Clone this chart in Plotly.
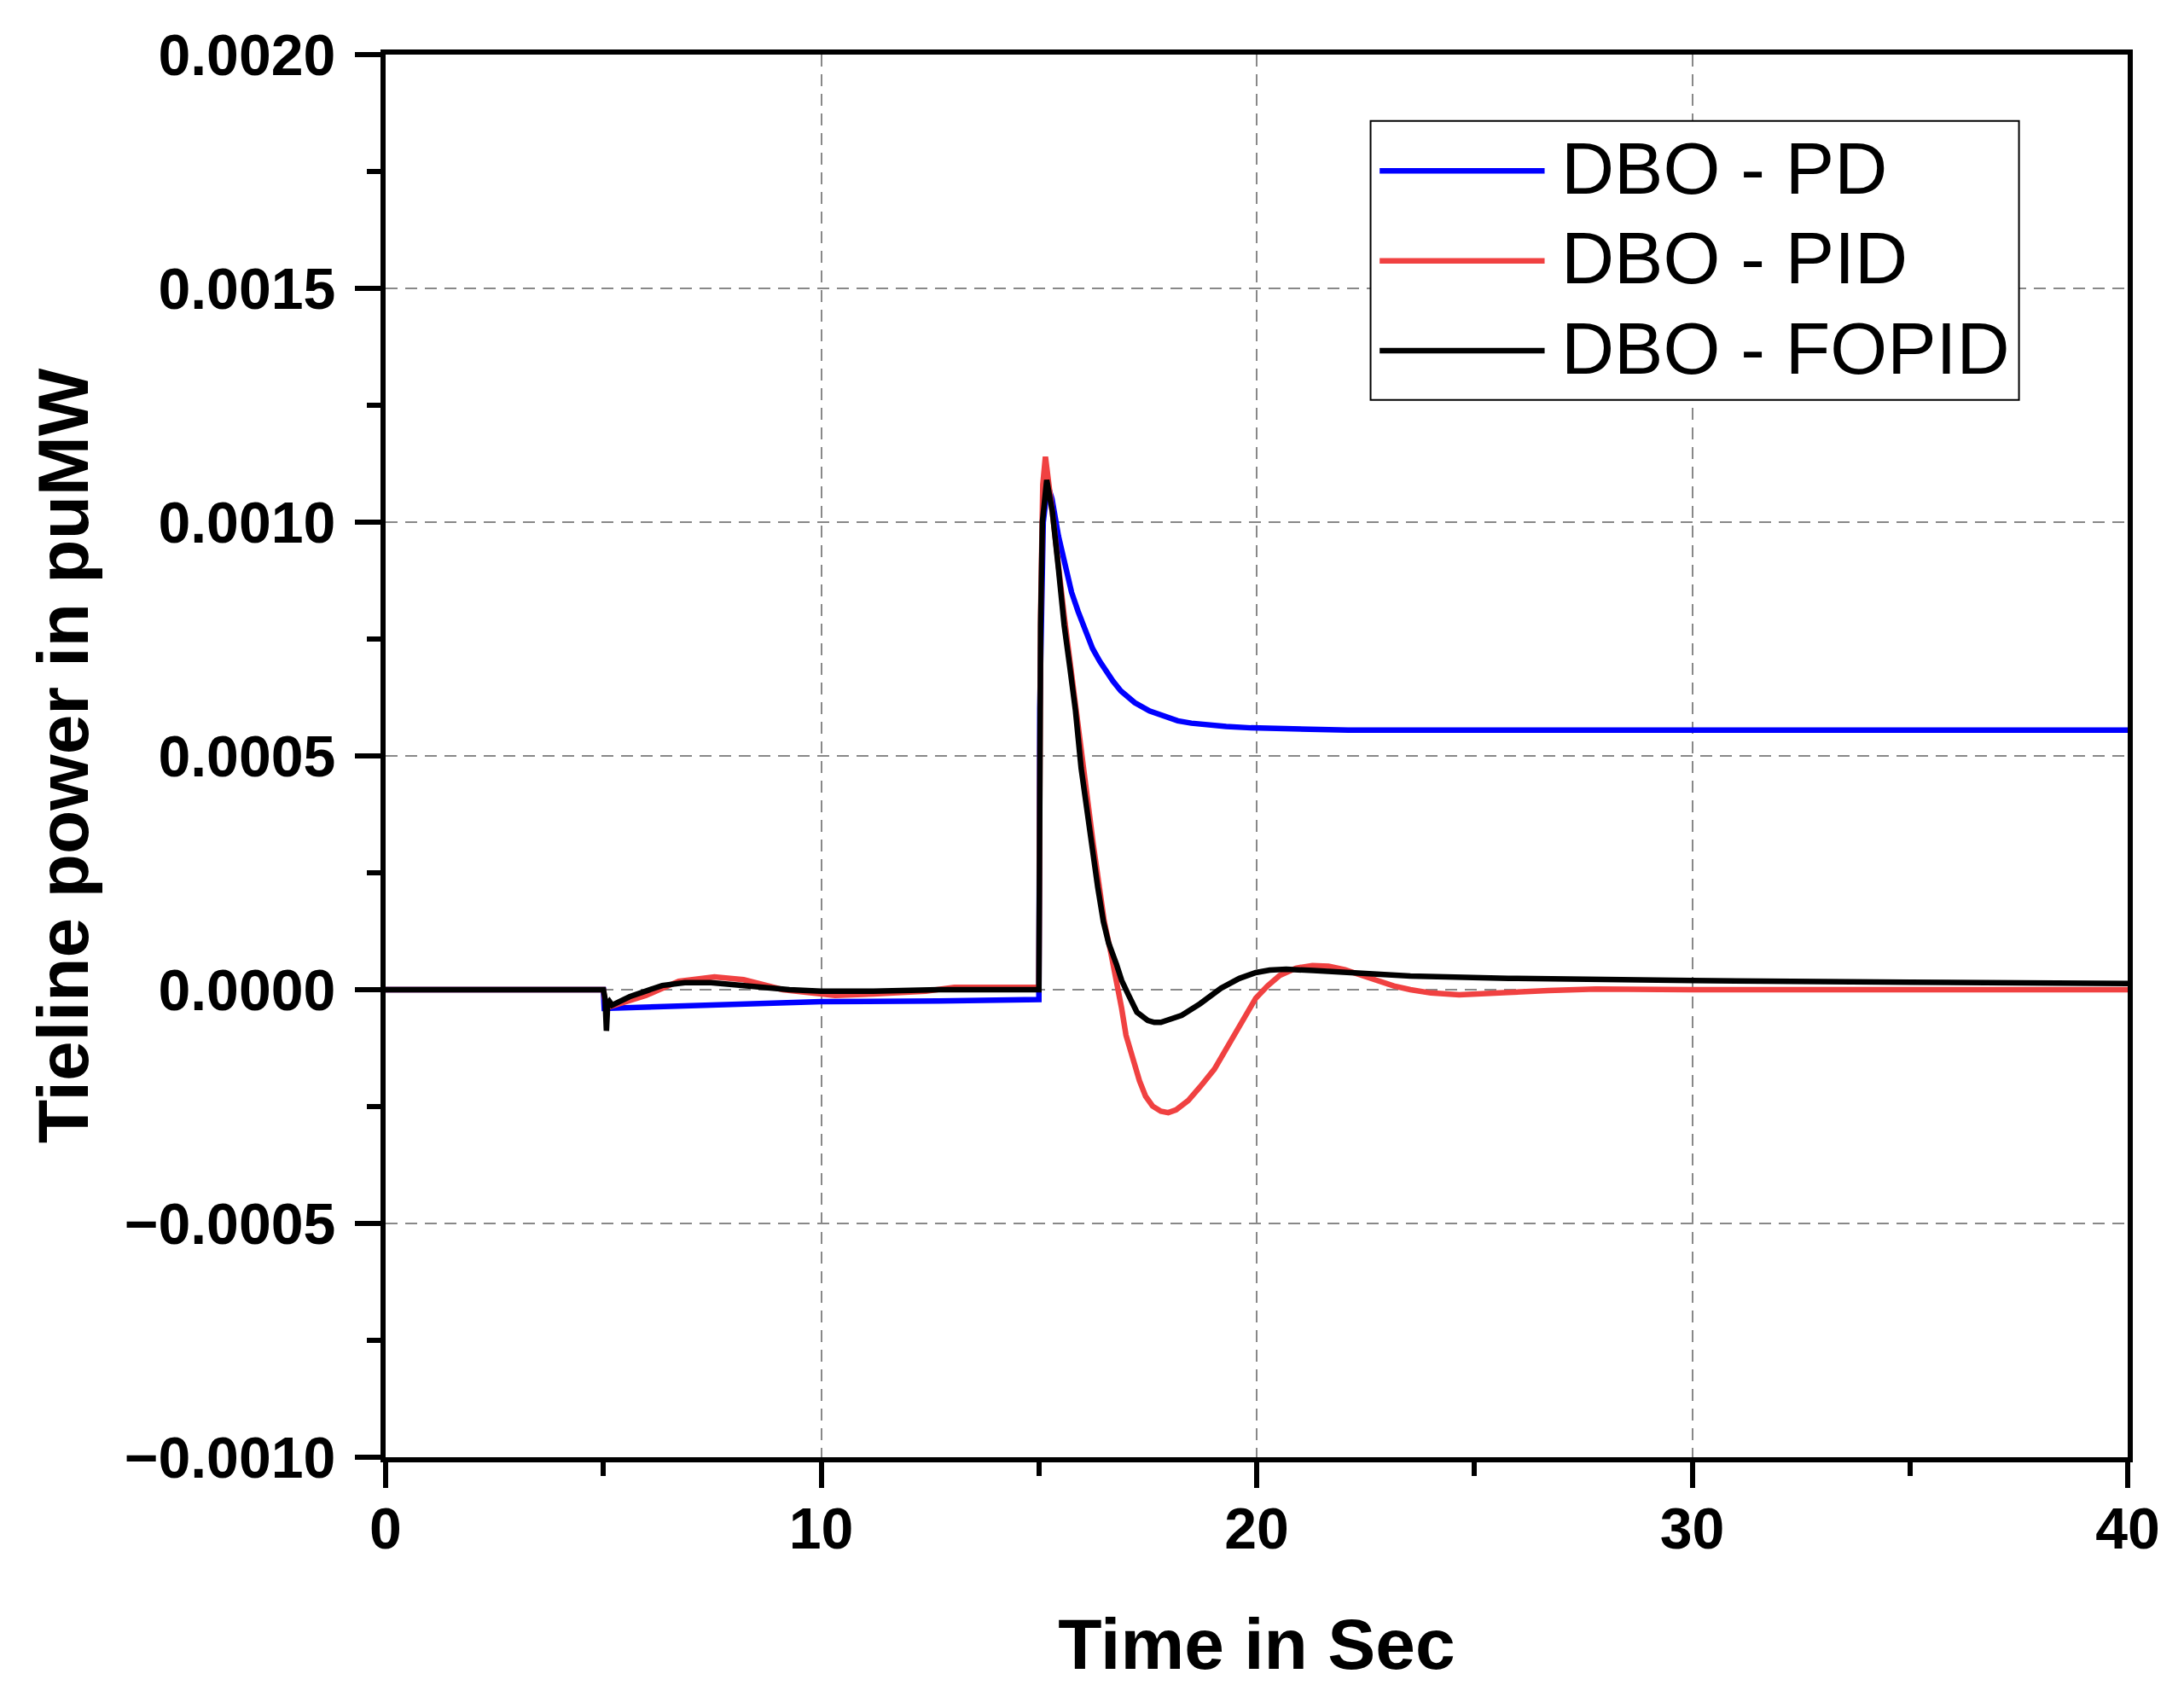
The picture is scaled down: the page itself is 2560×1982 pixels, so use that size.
import plotly.graph_objects as go

# time (s) and tieline power (puMW)
t_pd = [0, 5.0, 5.02, 5.15, 7.47, 10.0, 12.7, 14.99, 15.0, 15.02, 15.1, 15.2, 15.3, 15.45,
        15.58, 15.75, 15.9, 16.05, 16.23, 16.4, 16.55, 16.7, 16.88, 17.05, 17.2, 17.54, 17.85,
        18.19, 18.5, 18.84, 19.3, 19.87, 21.0, 22.1, 40]
p_pd = [0, 0, -0.00004, -0.0000396, -0.0000335, -0.0000256, -0.0000244, -0.000021, -0.000021,
        0.0006, 0.001, 0.00108, 0.00105, 0.00097, 0.000912, 0.00085, 0.000809, 0.00077,
        0.00073, 0.000702, 0.00068, 0.00066, 0.000639, 0.000625, 0.000614, 0.000596, 0.000585,
        0.000575, 0.00057, 0.000566, 0.000563, 0.00056, 0.000557, 0.000555, 0.000555]

t_pid = [0, 5.0, 5.05, 5.15, 5.98, 6.73, 7.55, 8.22, 9.12, 10.32, 11.2, 12.4, 13.06, 14.99,
         15.0, 15.04, 15.09, 15.15, 15.22, 15.31, 15.58, 15.84, 16.03, 16.25, 16.5, 16.65,
         16.78, 16.9, 17.0, 17.15, 17.31, 17.45, 17.61, 17.8, 17.97, 18.15, 18.3, 18.43, 18.7,
         19.03, 19.25, 19.48, 19.75, 19.98, 20.25, 20.53, 20.9, 21.28, 21.65, 22.03, 22.4,
         22.78, 23.15, 23.53, 24.0, 24.65, 25.2, 25.78, 26.7, 27.79, 30, 40]
p_pid = [0, 0, -0.00003, -0.0000365, -0.0000122, 0.000018, 0.0000274, 0.0000213, 0,
         -0.0000122, -0.0000091, -0.000003, 0.0000049, 0.0000049,
         0.0000049, 0.0008, 0.00108, 0.00114, 0.00108, 0.00102, 0.0008, 0.00062, 0.00047,
         0.00031, 0.000146, 0.00008, 0.0000243, -0.00004, -0.0000973, -0.00015, -0.000195,
         -0.000228, -0.000249, -0.00026, -0.000263, -0.000257, -0.000248, -0.000237,
         -0.000208, -0.00017, -0.000135, -0.0000973, -0.000055, -0.0000182, 0.000008,
         0.0000304, 0.000046, 0.0000517, 0.00005, 0.0000426, 0.000031, 0.0000182, 0.000008, 0,
         -0.000007, -0.000011, -0.00001, -0.000006, -0.000002, 0.0000013, 0, 0]

t_fopid = [0, 5.0, 5.04, 5.07, 5.1, 5.14, 5.2, 5.6, 6.35, 6.87, 7.47, 8.45, 9.27, 10.0, 11.2,
           12.7, 15.0, 15.04, 15.08, 15.18, 15.31, 15.45, 15.58, 15.71, 15.84, 15.97, 16.1,
           16.2, 16.35, 16.48, 16.6, 16.78, 16.9, 17.05, 17.25, 17.5, 17.65, 17.8, 17.95,
           18.28, 18.7, 19.18, 19.6, 19.98, 20.3, 20.68, 21.3, 22.03, 23.53, 25.78, 27.79, 30,
           35, 40]
p_fopid = [0, 0, -0.00002, -0.000088, -0.00003, -0.000025, -0.000033, -0.000015, 0.000009,
           0.000015, 0.000015, 0.0000055, 0, -0.000003, -0.000003, 0, 0, 0.00078, 0.001,
           0.00109, 0.001022, 0.0009, 0.00078, 0.00069, 0.000597, 0.000474, 0.00038, 0.00031,
           0.00022, 0.000146, 0.0001, 0.0000547, 0.00002, -0.00001, -0.000048, -0.000066,
           -0.00007, -0.00007, -0.000066, -0.0000547, -0.00003, 0.000003, 0.000024, 0.0000365,
           0.000042, 0.0000438, 0.000041, 0.0000365, 0.0000292, 0.0000243, 0.0000213,
           0.0000195, 0.000016, 0.0000134]

names = ["DBO - PD", "DBO - PID", "DBO - FOPID"]
colors = ["#0000FF", "#F04141", "#000000"]
y_ticks = [-0.001, -0.0005, 0, 0.0005, 0.001, 0.0015, 0.002]

fig = go.Figure()
for t, p, nm, c in zip([t_pd, t_pid, t_fopid], [p_pd, p_pid, p_fopid], names, colors):
    fig.add_trace(go.Scatter(x=t, y=p, mode="lines", name=nm,
                             line=dict(color=c, width=6.5), showlegend=False))

bold = dict(family="Liberation Sans, Arial", size=68, color="black", weight="bold")
axis_common = dict(showline=True, linecolor="black", linewidth=6, mirror=True,
                   ticks="outside", ticklen=30, tickwidth=5.5, tickcolor="black",
                   showgrid=True, gridcolor="#888888", gridwidth=2,
                   griddash="14px,9px", zeroline=False, tickfont=bold, automargin=False)

fig.update_xaxes(range=[0, 40], dtick=10, tick0=0,
                 minor=dict(dtick=5, ticklen=16, tickwidth=5.5, ticks="outside",
                            tickcolor="black", showgrid=False),
                 title=dict(text="Time in Sec", standoff=75,
                            font=dict(family="Liberation Sans, Arial", size=84,
                                      color="black", weight="bold")),
                 ticklabelstandoff=-11, **axis_common)
fig.update_yaxes(range=[-0.001, 0.002], tickvals=y_ticks, tickformat=".4f",
                 minor=dict(dtick=0.00025, tick0=0, ticklen=16, tickwidth=5.5,
                            ticks="outside", tickcolor="black", showgrid=False),
                 title=dict(text="Tieline power in puMW", standoff=16,
                            font=dict(family="Liberation Sans, Arial", size=84,
                                      color="black", weight="bold")),
                 ticklabelstandoff=9, **axis_common)

# legend drawn by hand so the line samples are as long as in the original
fig.add_shape(type="rect", xref="paper", yref="paper", x0=0.5654, x1=0.9376,
              y0=0.7538, y1=0.9527, line=dict(color="black", width=2),
              fillcolor="white", layer="above")
rows = [0.9171, 0.8530, 0.7889]
for yy, nm, c in zip(rows, names, colors):
    fig.add_shape(type="line", xref="paper", yref="paper", x0=0.5706, x1=0.6653,
                  y0=yy, y1=yy, line=dict(color=c, width=6.5), layer="above")
    fig.add_annotation(x=0.674, y=yy + 0.002, xref="paper", yref="paper", text=nm,
                       showarrow=False, xanchor="left", yanchor="middle",
                       font=dict(family="Liberation Sans, Arial", size=86, color="black"))

# the page body keeps its 8px margin, so the figure is 16px smaller than the window
fig.update_layout(width=2544, height=1966, plot_bgcolor="white", paper_bgcolor="white",
                  margin=dict(l=444, r=58, t=56, b=266), showlegend=False)

fig.write_html("out.html")
